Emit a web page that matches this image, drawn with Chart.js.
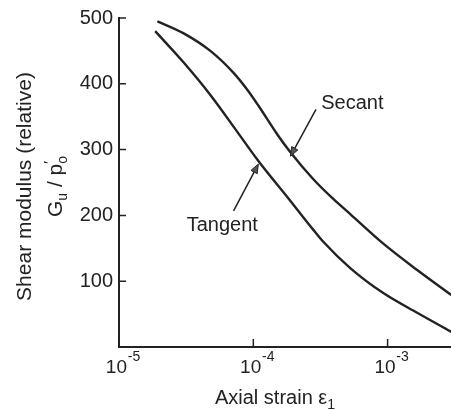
<!DOCTYPE html>
<html>
<head>
<meta charset="utf-8">
<script src="https://cdn.jsdelivr.net/npm/chart.js@4/dist/chart.umd.min.js"></script>
<style>
  html, body { margin: 0; padding: 0; background: #fff; }
  #wrap { width: 451px; height: 410px; }
</style>
</head>
<body>
<div id="wrap"><canvas id="chart" width="451" height="410"></canvas></div>
<script>
// values
const secantStrain = [1.93e-5, 3.01e-5, 4.79e-5, 7.1e-5, 9.02e-5, 1.09e-4, 1.51e-4, 1.89e-4, 2.8e-4, 3.94e-4, 5.27e-4, 9.29e-4, 1.66e-3, 2.98e-3];
const secantModulus = [495, 477, 450, 417, 391, 367, 323, 296, 255, 225, 202, 157, 117, 79];
const tangentStrain = [1.86e-5, 3.01e-5, 4.79e-5, 7.6e-5, 1.07e-4, 1.89e-4, 2.8e-4, 3.32e-4, 5.27e-4, 9.29e-4, 1.66e-3, 2.98e-3];
const tangentModulus = [480, 433, 383, 327, 285, 222, 178, 160, 120, 82, 52, 23];

const yTicks = [100, 200, 300, 400, 500];
const xDecades = [1e-5, 1e-4, 1e-3];
const xExponents = ["-5", "-4", "-3"];

// labels with arrows: text anchor, arrow start, arrow tip (data units)
const notes = [
  { text: "Secant", at: [5.47e-4, 361], from: [2.93e-4, 361], to: [1.89e-4, 290] },
  { text: "Tangent", at: [5.88e-5, 177], from: [7.13e-5, 207], to: [1.09e-4, 278] }
];

const INK = "#222";
const FONT = "'Liberation Sans', Arial, Helvetica, sans-serif";

function toPoints(xs, ys) {
  return xs.map((x, i) => ({ x, y: ys[i] }));
}

// draw a run of [text, size, dy, advance] pieces, centred on cx
function drawRun(ctx, pieces, cx, baseY) {
  let total = 0;
  pieces.forEach(([t, size, dy, adv]) => {
    ctx.font = `${size}px ${FONT}`;
    if (adv !== false) total += ctx.measureText(t).width;
  });
  let x = cx - total / 2;
  pieces.forEach(([t, size, dy, adv]) => {
    ctx.font = `${size}px ${FONT}`;
    ctx.fillText(t, x, baseY + dy);
    if (adv !== false) x += ctx.measureText(t).width;
  });
}

const decorPlugin = {
  id: "decor",
  afterDraw(chart) {
    const { ctx, chartArea } = chart;
    const xs = chart.scales.x;
    const ys = chart.scales.y;
    ctx.save();
    ctx.fillStyle = INK;
    ctx.strokeStyle = INK;
    ctx.textAlign = "left";
    ctx.textBaseline = "alphabetic";

    // inward tick marks
    ctx.lineWidth = 1.5;
    ctx.beginPath();
    yTicks.forEach((v) => {
      const py = ys.getPixelForValue(v);
      ctx.moveTo(chartArea.left, py);
      ctx.lineTo(chartArea.left + 7, py);
    });
    xDecades.forEach((v) => {
      const px = xs.getPixelForValue(v);
      ctx.moveTo(px, chartArea.bottom);
      ctx.lineTo(px, chartArea.bottom - 8);
    });
    ctx.stroke();

    // decade labels 10^n
    xDecades.forEach((v, i) => {
      const px = xs.getPixelForValue(v) + 4;
      drawRun(ctx, [["10", 19, 0], ["\u2009", 4, 0], [xExponents[i], 14, -12]], px, 373);
    });

    // x axis title
    drawRun(ctx, [["Axial strain \u03b5", 20, 0], ["1", 14, 5]], 275, 404);

    // y axis title, two rotated lines
    ctx.save();
    ctx.translate(31, 186.5);
    ctx.rotate(-Math.PI / 2);
    drawRun(ctx, [["Shear modulus (relative)", 21, 0]], 0, 0);
    ctx.restore();
    ctx.save();
    ctx.translate(62, 186.5);
    ctx.rotate(-Math.PI / 2);
    drawRun(ctx, [["G", 21, 0], ["u", 14, 5], [" / p", 21, 0], ["\u2032", 15, -8, false], ["o", 14, 5]], 0, 0);
    ctx.restore();

    // annotations
    notes.forEach((n) => {
      const tx = xs.getPixelForValue(n.at[0]);
      const ty = ys.getPixelForValue(n.at[1]);
      drawRun(ctx, [[n.text, 20, 0]], tx, ty);
      const x0 = xs.getPixelForValue(n.from[0]);
      const y0 = ys.getPixelForValue(n.from[1]);
      const x1 = xs.getPixelForValue(n.to[0]);
      const y1 = ys.getPixelForValue(n.to[1]);
      const ang = Math.atan2(y1 - y0, x1 - x0);
      const len = 9;
      const half = 3.5;
      const bx = x1 - len * Math.cos(ang);
      const by = y1 - len * Math.sin(ang);
      ctx.lineWidth = 1.5;
      ctx.beginPath();
      ctx.moveTo(x0, y0);
      ctx.lineTo(bx, by);
      ctx.stroke();
      ctx.beginPath();
      ctx.moveTo(x1, y1);
      ctx.lineTo(bx + half * Math.sin(ang), by - half * Math.cos(ang));
      ctx.lineTo(bx - half * Math.sin(ang), by + half * Math.cos(ang));
      ctx.closePath();
      ctx.fillStyle = "#555";
      ctx.fill();
      ctx.lineWidth = 1;
      ctx.stroke();
      ctx.fillStyle = INK;
    });
    ctx.restore();
  }
};

const lineStyle = {
  borderColor: INK,
  borderWidth: 2.4,
  pointRadius: 0,
  fill: false,
  cubicInterpolationMode: "monotone"
};

new Chart(document.getElementById("chart"), {
  type: "line",
  data: {
    datasets: [
      { label: "Secant", data: toPoints(secantStrain, secantModulus), ...lineStyle },
      { label: "Tangent", data: toPoints(tangentStrain, tangentModulus), ...lineStyle }
    ]
  },
  options: {
    responsive: false,
    animation: false,
    layout: { padding: { top: 15, right: 0, bottom: 63, left: 0 } },
    plugins: { legend: { display: false }, tooltip: { enabled: false } },
    scales: {
      x: {
        type: "logarithmic",
        min: 1e-5,
        max: 2.965e-3,
        grid: { display: false, drawTicks: false },
        ticks: { display: false },
        border: { display: true, color: INK, width: 2 }
      },
      y: {
        min: 0,
        max: 500,
        afterFit: (scale) => { scale.width = 119; },
        grid: { display: false, drawTicks: false },
        ticks: {
          stepSize: 100,
          padding: 6,
          color: INK,
          font: { family: FONT, size: 20 },
          callback: (v) => (v === 0 ? "" : v)
        },
        border: { display: true, color: INK, width: 2 }
      }
    }
  },
  plugins: [decorPlugin]
});
</script>
</body>
</html>
